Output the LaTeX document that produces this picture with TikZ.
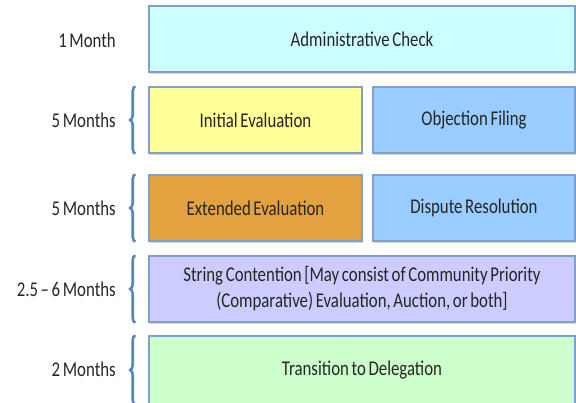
\documentclass[tikz,border=0pt]{standalone}
\usepackage{fontspec}
\setmainfont[FakeStretch=0.8, WordSpace=0.7]{Carlito}
\usetikzlibrary{shadows,decorations.pathreplacing}

\definecolor{boxline}{HTML}{7F9FCF}
\definecolor{bracecol}{HTML}{5585C2}
\definecolor{txtcol}{HTML}{262626}
\definecolor{admincol}{HTML}{CCFFFF}
\definecolor{initcol}{HTML}{FFFF99}
\definecolor{extcol}{HTML}{E3A23F}
\definecolor{objcol}{HTML}{99CCFF}
\definecolor{strcol}{HTML}{CCCCFF}
\definecolor{delcol}{HTML}{CCFFCC}

\tikzset{
	phase/.style={rectangle, draw=boxline, line width=1.6pt, minimum height=66pt, inner sep=0pt, text=txtcol, font=\fontsize{21}{26}\selectfont, align=center, drop shadow={shadow xshift=1pt, shadow yshift=-2pt, fill=black!30}},
	span/.style={anchor=east, text=txtcol, font=\fontsize{21}{26}\selectfont, inner sep=0pt},
	bracket/.style={draw=bracecol, line width=2.6pt, decorate, decoration={brace, amplitude=5pt}}
}

\begin{document}
\begin{tikzpicture}[x=1pt,y=1pt]
	\useasboundingbox (0,0) rectangle (576,402);
	\clip (0,0) rectangle (576,402);

	\node 	(admin)	at	(362,363) 	[phase, fill=admincol, minimum width=426pt]{Administrative Check};

	\node 	(init)	at	(255.5,282) 	[phase, fill=initcol, minimum width=213pt]{Initial Evaluation};
	\node 	(obj)	at	(474,282) 	[phase, fill=objcol, minimum width=202pt]{Objection Filing};

	\node 	(ext)	at	(255.5,194) 	[phase, fill=extcol, minimum width=213pt]{Extended Evaluation};
	\node 	(disp)	at	(474,194) 	[phase, fill=objcol, minimum width=202pt]{Dispute Resolution};

	\node 	(str)	at	(362,113) 	[phase, fill=strcol, minimum width=426pt]{String Contention [May consist of Community Priority\\(Comparative) Evaluation, Auction, or both]};

	\node 	(del)	at	(362,32) 	[phase, fill=delcol, minimum width=426pt, minimum height=68pt]{Transition to Delegation};

	\node 	(t1)	at	(116,362) 	[span]{1 Month};
	\node 	(t2)	at	(116,282) 	[span]{5 Months};
	\node 	(t3)	at	(116,194) 	[span]{5 Months};
	\node 	(t4)	at	(116,113) 	[span]{2.5 -- 6 Months};
	\node 	(t5)	at	(116,33) 	[span]{2 Months};

	\draw[bracket] ([xshift=-13pt]init.south west) to 	([xshift=-13pt]init.north west);
	\draw[bracket] ([xshift=-13pt]ext.south west) to 	([xshift=-13pt]ext.north west);
	\draw[bracket] ([xshift=-13pt]str.south west) to 	([xshift=-13pt]str.north west);
	\draw[bracket] ([xshift=-13pt]del.south west) to 	([xshift=-13pt]del.north west);

\end{tikzpicture}
\end{document}
